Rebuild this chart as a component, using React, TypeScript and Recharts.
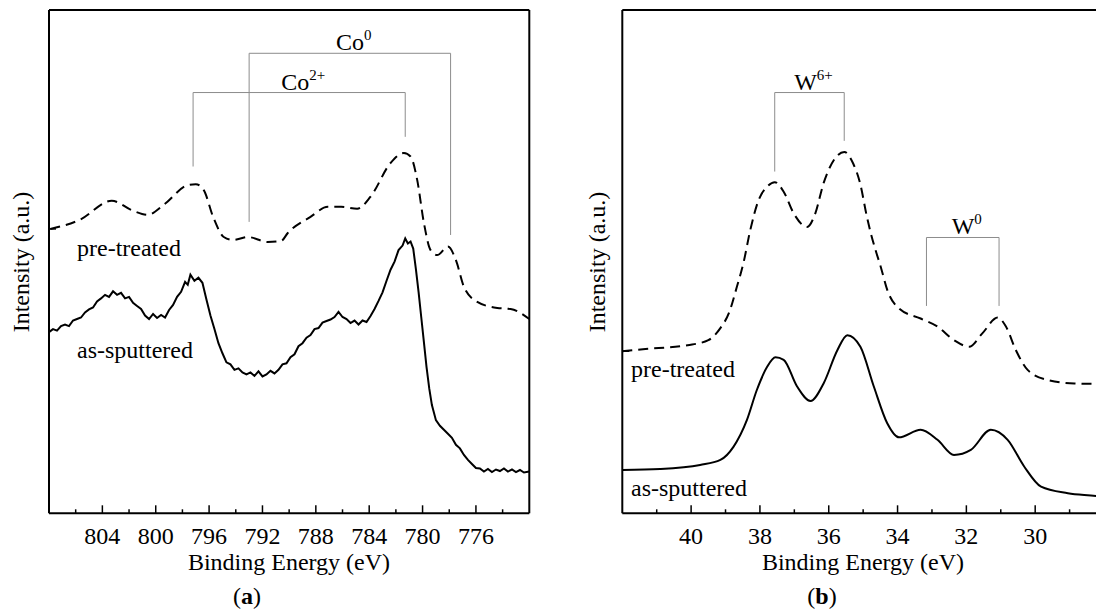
import { LineChart, Line, XAxis, YAxis, ReferenceLine } from 'recharts'

const serif = 'Times New Roman, Liberation Serif, serif'

// ---- panel (a): Co 2p ----
const coPreEnergy = [807.9, 805.7, 803.3, 801.7, 800.6, 799.4, 797.6, 797.0, 796.4, 795.7, 794.9, 794.2, 793.1, 791.6, 790.6, 790.1, 788.4, 787.1, 786.1, 784.9, 783.9, 782.4, 781.4, 780.9, 780.4, 779.9, 779.4, 778.9, 778.1, 777.5, 776.9, 775.9, 774.4, 773.4, 772.0]
const coPre = [56.5, 58.3, 62.1, 60.1, 59.3, 61.3, 65.2, 65.4, 64.2, 58.9, 54.9, 54.3, 54.9, 53.9, 54.1, 55.7, 58.9, 60.9, 60.9, 60.5, 62.9, 69.6, 71.6, 70.9, 66.2, 57.7, 52.3, 51.3, 53.0, 50.3, 45.0, 42.0, 40.8, 40.6, 38.6]

const coAsEnergy = [808.0, 807.7, 807.4, 807.1, 806.8, 806.5, 806.2, 805.9, 805.6, 805.3, 805.0, 804.7, 804.4, 804.1, 803.8, 803.5, 803.2, 802.9, 802.6, 802.3, 802.0, 801.7, 801.4, 801.1, 800.8, 800.5, 800.2, 799.9, 799.6, 799.3, 799.0, 798.7, 798.4, 798.1, 797.8, 797.6, 797.4, 797.1, 796.8, 796.5, 796.2, 795.9, 795.6, 795.3, 795.0, 794.7, 794.4, 794.1, 793.8, 793.5, 793.2, 792.9, 792.6, 792.3, 792.0, 791.7, 791.4, 791.1, 790.8, 790.5, 790.2, 789.9, 789.6, 789.3, 789.0, 788.7, 788.4, 788.1, 787.8, 787.5, 787.2, 786.9, 786.6, 786.3, 786.0, 785.7, 785.4, 785.1, 784.8, 784.5, 784.2, 783.9, 783.6, 783.3, 783.0, 782.7, 782.4, 782.1, 781.8, 781.5, 781.3, 781.1, 780.9, 780.7, 780.5, 780.3, 780.1, 779.9, 779.7, 779.5, 779.3, 779.0, 778.7, 778.4, 778.1, 777.8, 777.5, 777.2, 776.9, 776.6, 776.3, 776.0, 775.7, 775.4, 775.1, 774.8, 774.5, 774.2, 773.9, 773.6, 773.3, 773.0, 772.7, 772.4, 772.0]
const coAs = [36.0, 36.6, 36.3, 37.2, 37.5, 37.2, 38.3, 38.6, 38.9, 39.9, 40.5, 40.9, 42.1, 42.7, 43.4, 43.0, 44.1, 43.4, 43.8, 42.7, 43.0, 41.8, 41.2, 40.6, 39.3, 38.6, 39.6, 38.8, 39.4, 38.9, 40.4, 41.4, 43.0, 44.0, 46.0, 45.4, 47.4, 46.2, 46.8, 45.8, 42.5, 39.3, 36.6, 33.8, 31.8, 30.0, 29.6, 28.5, 28.8, 28.0, 27.6, 28.0, 27.3, 28.2, 27.2, 27.6, 28.3, 27.8, 28.5, 29.6, 29.8, 31.0, 31.6, 33.2, 33.8, 34.9, 35.4, 36.6, 36.8, 37.9, 38.2, 38.5, 39.0, 40.0, 39.0, 38.6, 37.8, 38.3, 37.5, 38.3, 38.0, 39.2, 40.6, 42.2, 43.9, 46.2, 48.4, 50.0, 52.3, 53.2, 54.6, 53.6, 54.0, 52.6, 48.5, 44.0, 39.0, 34.0, 29.0, 24.8, 21.5, 18.5, 17.4, 16.6, 15.8, 15.0, 13.6, 12.9, 11.6, 10.6, 9.8, 9.0, 8.9, 8.3, 8.8, 8.2, 8.7, 8.4, 8.9, 8.3, 8.7, 8.2, 8.6, 8.1, 8.3]

const coTicks = [806, 804, 802, 800, 798, 796, 794, 792, 790, 788, 786, 784, 782, 780, 778, 776, 774]
const coLabels = [804, 800, 796, 792, 788, 784, 780, 776]

// ---- panel (b): W 4f ----
const wPreEnergy = [42.0, 41.4, 40.1, 39.5, 39.15, 38.9, 38.67, 38.48, 38.28, 38.04, 37.79, 37.57, 37.31, 37.02, 36.63, 36.39, 36.15, 35.85, 35.55, 35.29, 35.09, 34.89, 34.78, 34.64, 34.49, 34.3, 33.96, 33.33, 32.84, 32.36, 31.92, 31.53, 31.09, 30.85, 30.56, 30.22, 29.64, 28.86, 28.0]
const wPre = [32.2, 32.6, 33.4, 34.4, 36.8, 39.8, 45.0, 49.7, 56.3, 62.2, 64.9, 65.8, 63.9, 59.6, 56.9, 59.6, 65.6, 70.2, 71.8, 69.5, 65.6, 58.9, 55.7, 52.3, 49.0, 44.4, 40.7, 38.7, 37.1, 34.4, 33.1, 35.8, 38.9, 37.1, 32.4, 28.5, 26.5, 25.8, 25.7]

const wAsEnergy = [42.0, 40.9, 39.74, 39.15, 38.77, 38.38, 38.09, 37.79, 37.55, 37.31, 36.92, 36.53, 36.15, 35.75, 35.46, 35.08, 34.69, 34.3, 33.96, 33.33, 32.84, 32.36, 31.87, 31.29, 30.8, 30.32, 29.83, 29.05, 28.2, 28.0]
const wAs = [8.6, 8.8, 9.6, 10.6, 13.2, 18.5, 24.5, 29.1, 31.0, 30.5, 25.2, 22.3, 25.8, 32.4, 35.4, 33.1, 25.2, 17.9, 15.1, 16.6, 14.6, 11.6, 12.6, 16.6, 14.6, 9.3, 5.3, 4.0, 3.4, 3.2]

const wTicks = [41, 40, 39, 38, 37, 36, 35, 34, 33, 32, 31, 30, 29]
const wLabels = [40, 38, 36, 34, 32, 30]

// peak assignment brackets (energy of both legs, heights in intensity units)
const coBrackets = [
  { name: 'Co', sup: '2+', left: 797.2, right: 781.3, top: 83.6, leftEnd: 68.9, rightEnd: 74.8 },
  { name: 'Co', sup: '0', left: 793.0, right: 777.9, top: 91.4, leftEnd: 57.9, rightEnd: 55.3 },
]
const wBrackets = [
  { name: 'W', sup: '6+', left: 37.57, right: 35.55, top: 83.6, leftEnd: 67.9, rightEnd: 74.0 },
  { name: 'W', sup: '0', left: 33.16, right: 31.05, top: 54.8, leftEnd: 41.2, rightEnd: 41.2 },
]

const FS = 24

const zip = (xs: number[], ys: number[]) => xs.map((e, i) => ({ e, v: ys[i] }))

const makeXTick = (labels: number[]) => (props: any) => {
  const { x, y, payload } = props
  const major = labels.includes(payload.value)
  return (
    <g>
      <line x1={x} x2={x} y1={y} y2={y - (major ? 8 : 4)} stroke="#000" strokeWidth={1.5} />
      {major && (
        <text x={x} y={y + 31} textAnchor="middle" fontFamily={serif} fontSize={FS} fill="#000">
          {payload.value}
        </text>
      )}
    </g>
  )
}

const YTick = (props: any) => {
  const { x, y } = props
  return <line x1={x} x2={x + 7} y1={y} y2={y} stroke="#000" strokeWidth={1.5} />
}

const bracketLines = (b: any, i: number) => {
  const stroke = '#8c8c8c'
  return [
    <ReferenceLine key={'l' + i} segment={[{ x: b.left, y: b.leftEnd }, { x: b.left, y: b.top }]} stroke={stroke} strokeWidth={1} ifOverflow="visible" />,
    <ReferenceLine key={'r' + i} segment={[{ x: b.right, y: b.rightEnd }, { x: b.right, y: b.top }]} stroke={stroke} strokeWidth={1} ifOverflow="visible" />,
    <ReferenceLine
      key={'h' + i}
      segment={[{ x: b.left, y: b.top }, { x: b.right, y: b.top }]}
      stroke={stroke}
      strokeWidth={1}
      ifOverflow="visible"
      label={{
        content: (p: any) => {
          const vb = p.viewBox || {}
          const cx = vb.x + vb.width / 2
          return (
            <text x={cx + 4} y={vb.y - 3} textAnchor="middle" fontFamily={serif} fontSize={FS} fill="#000">
              {b.name}
              <tspan fontSize={15} dy={-10}>{b.sup}</tspan>
            </text>
          )
        },
      }}
    />,
  ]
}

const axisStyle = { stroke: '#000', strokeWidth: 2 }

function Panel({ pre, as, asCurve, domain, ticks, labels, brackets, yTick, margin, width }: any) {
  return (
    <LineChart width={width} height={614} margin={margin}>
      <XAxis type="number" dataKey="e" domain={domain} reversed ticks={ticks} interval={0}
        allowDataOverflow height={30} tickSize={0} tickMargin={0}
        axisLine={axisStyle} tickLine={false} tick={makeXTick(labels)} />
      <XAxis xAxisId="top" orientation="top" type="number" domain={domain} reversed height={1}
        allowDataOverflow tick={false} tickLine={false} axisLine={axisStyle} />
      <YAxis type="number" domain={[0, 100]} ticks={[yTick]} width={10} tickSize={0} tickMargin={0}
        allowDataOverflow axisLine={axisStyle} tickLine={false} tick={YTick} />
      <YAxis yAxisId="right" orientation="right" type="number" domain={[0, 100]} width={1}
        tick={false} tickLine={false} axisLine={axisStyle} />
      {brackets.map(bracketLines)}
      <Line data={pre} dataKey="v" type="monotone" stroke="#000" strokeWidth={2}
        strokeDasharray="10 6" dot={false} isAnimationActive={false} />
      <Line data={as} dataKey="v" type={asCurve} stroke="#000" strokeWidth={2}
        dot={false} isAnimationActive={false} />
    </LineChart>
  )
}

const Txt = ({ x, y, children, size = FS, center = false, rotate = false }: any) => (
  <div
    style={{
      position: 'absolute',
      left: x,
      top: y - size / 2,
      fontFamily: serif,
      fontSize: size,
      lineHeight: size + 'px',
      whiteSpace: 'nowrap',
      color: '#000',
      transform: (center ? 'translateX(-50%)' : '') + (rotate ? ' rotate(-90deg)' : ''),
      transformOrigin: 'center center',
    }}
  >
    {children}
  </div>
)

export default function App() {
  return (
    <div style={{ position: 'fixed', left: 0, top: 0, width: 1096, height: 614, overflow: 'hidden', background: '#fff', fontFamily: serif }}>
      <div style={{ position: 'absolute', left: 0, top: 0 }}>
        <Panel
          pre={zip(coPreEnergy, coPre)}
          as={zip(coAsEnergy, coAs)}
          asCurve="linear"
          domain={[772, 808]}
          ticks={coTicks}
          labels={coLabels}
          brackets={coBrackets}
          yTick={56.5}
          width={548}
          margin={{ top: 9, left: 39, right: 17.7, bottom: 70.7 }}
        />
      </div>
      <div style={{ position: 'absolute', left: 548, top: 0 }}>
        <Panel
          pre={zip(wPreEnergy, wPre)}
          as={zip(wAsEnergy, wAs)}
          asCurve="monotone"
          domain={[28, 42]}
          ticks={wTicks}
          labels={wLabels}
          brackets={wBrackets}
          yTick={32.2}
          width={570}
          margin={{ top: 9, left: 64.3, right: 13, bottom: 70.7 }}
        />
      </div>

      <Txt x={77} y={248}>pre-treated</Txt>
      <Txt x={77} y={350}>as-sputtered</Txt>
      <Txt x={631} y={369}>pre-treated</Txt>
      <Txt x={631} y={488}>as-sputtered</Txt>

      <Txt x={289} y={562} center>Binding Energy (eV)</Txt>
      <Txt x={863} y={562} center>Binding Energy (eV)</Txt>
      <Txt x={247} y={596} center>(<b>a</b>)</Txt>
      <Txt x={822} y={596} center>(<b>b</b>)</Txt>

      <Txt x={21} y={262} center rotate>Intensity (a.u.)</Txt>
      <Txt x={597} y={262} center rotate>Intensity (a.u.)</Txt>
    </div>
  )
}
